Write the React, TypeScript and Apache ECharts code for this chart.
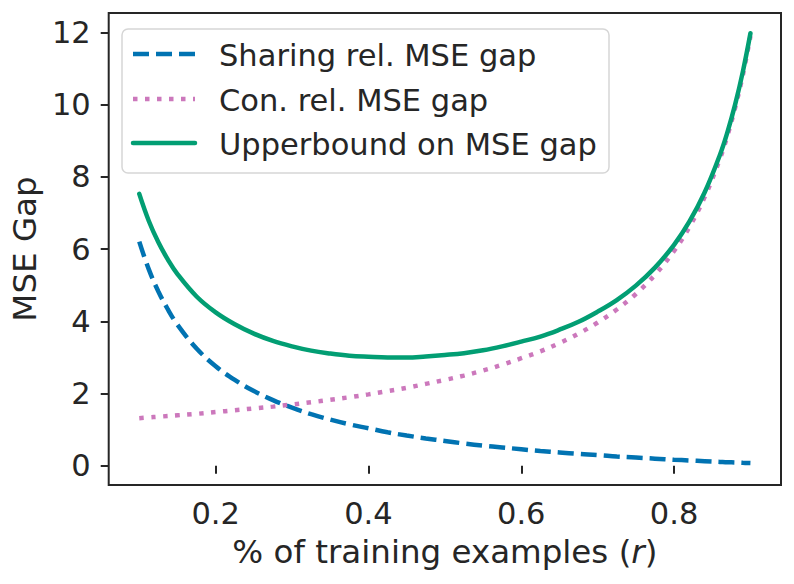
import React, { useEffect, useRef } from "react";
import * as echarts from "echarts";

const rValues = [0.1, 0.1125, 0.125, 0.1375, 0.15, 0.175, 0.2, 0.225, 0.25, 0.275, 0.3, 0.325, 0.35, 0.375, 0.4, 0.425, 0.45, 0.475, 0.5, 0.525, 0.55, 0.575, 0.6, 0.625, 0.65, 0.675, 0.7, 0.725, 0.75, 0.775, 0.8, 0.82, 0.84, 0.86, 0.87, 0.88, 0.89, 0.9];
const sharingGap = [6.21, 5.44, 4.83, 4.33, 3.91, 3.25, 2.76, 2.38, 2.07, 1.82, 1.61, 1.43, 1.28, 1.15, 1.04, 0.93, 0.84, 0.76, 0.69, 0.62, 0.56, 0.51, 0.46, 0.41, 0.37, 0.33, 0.3, 0.26, 0.23, 0.2, 0.17, 0.15, 0.13, 0.11, 0.1, 0.094, 0.085, 0.077];
const conGap = [1.32, 1.34, 1.36, 1.38, 1.4, 1.44, 1.49, 1.54, 1.59, 1.64, 1.7, 1.76, 1.83, 1.9, 1.98, 2.07, 2.16, 2.27, 2.38, 2.5, 2.64, 2.8, 2.98, 3.17, 3.4, 3.66, 3.97, 4.33, 4.76, 5.29, 5.95, 6.61, 7.44, 8.5, 9.15, 9.92, 10.82, 11.9];
const upperBound = [7.53, 6.78, 6.19, 5.71, 5.31, 4.69, 4.25, 3.92, 3.66, 3.46, 3.31, 3.19, 3.11, 3.05, 3.02, 3.0, 3.0, 3.03, 3.07, 3.12, 3.2, 3.31, 3.44, 3.58, 3.77, 3.99, 4.27, 4.59, 4.99, 5.49, 6.12, 6.76, 7.57, 8.61, 9.25, 10.01, 10.91, 11.98];
const xTicks = [0.2, 0.4, 0.6, 0.8];
const yTicks = [0, 2, 4, 6, 8, 10, 12];
const seriesNames = ["Sharing rel. MSE gap", "Con. rel. MSE gap", "Upperbound on MSE gap"];

const FONT = "DejaVu Sans";
const INK = "#262626";
const BLUE = "#0173b2";
const PINK = "#cc78bc";
const GREEN = "#029e73";
const LW = 4.5;

export default function App() {
  const ref = useRef<HTMLDivElement>(null);
  useEffect(() => {
    if (!ref.current) return;
    const chart = echarts.init(ref.current, null, { renderer: "svg" });
    const pairs = (vals: number[]) => rValues.map((r, i) => [r, vals[i]]);
    const legendRows = [
      { name: seriesNames[0], color: BLUE, dash: [16, 7], cap: "butt", y: 54 },
      { name: seriesNames[1], color: PINK, dash: [4.5, 7.5], cap: "butt", y: 99 },
      { name: seriesNames[2], color: GREEN, dash: null, cap: "round", y: 143 },
    ];
    const legendChildren: any[] = [
      {
        type: "rect",
        shape: { x: 122, y: 29, width: 487, height: 144, r: 6 },
        style: { fill: "rgba(255,255,255,0.85)", stroke: "#d6d6d6", lineWidth: 1.5 },
      },
    ];
    legendRows.forEach((row) => {
      legendChildren.push({
        type: "line",
        shape: { x1: 133, y1: row.y, x2: 195, y2: row.y },
        style: {
          stroke: row.color,
          lineWidth: LW,
          lineDash: row.dash || undefined,
          lineCap: row.cap,
        },
      });
      legendChildren.push({
        type: "text",
        x: 219,
        y: row.y + 1,
        style: {
          text: row.name,
          fill: INK,
          font: `30.5px '${FONT}'`,
          verticalAlign: "middle",
          align: "left",
        },
      });
    });
    const lineSeries = (name: string, vals: number[], color: string, type: any, cap: string, z: number) => ({
      name,
      type: "line",
      data: pairs(vals),
      showSymbol: false,
      symbol: "none",
      smooth: 0.4,
      lineStyle: { color, width: LW, type, cap },
      z,
    });
    chart.setOption({
      animation: false,
      backgroundColor: "#ffffff",
      grid: {
        left: 107,
        right: 13,
        top: 13,
        bottom: 99,
        show: true,
        borderColor: INK,
        borderWidth: 2,
        backgroundColor: "transparent",
      },
      xAxis: {
        type: "value",
        min: 0.06,
        max: 0.94,
        axisLine: { show: false },
        splitLine: { show: false },
        axisTick: {
          show: true,
          inside: false,
          length: 8,
          lineStyle: { color: INK, width: 2 },
          customValues: xTicks,
        },
        axisLabel: {
          customValues: xTicks,
          formatter: (v: number) => v.toFixed(1),
          fontSize: 30.5,
          fontFamily: FONT,
          color: INK,
          margin: 13,
        },
        name: "% of training examples ({i|r})",
        nameLocation: "middle",
        nameGap: 50,
        nameTextStyle: {
          fontSize: 32.5,
          fontFamily: FONT,
          color: INK,
          rich: { i: { fontSize: 32.5, fontFamily: FONT, color: INK, fontStyle: "italic" } },
        },
      },
      yAxis: {
        type: "value",
        min: -0.53,
        max: 12.54,
        axisLine: { show: false },
        splitLine: { show: false },
        axisTick: {
          show: true,
          inside: false,
          length: 8,
          lineStyle: { color: INK, width: 2 },
          customValues: yTicks,
        },
        axisLabel: {
          customValues: yTicks,
          fontSize: 30.5,
          fontFamily: FONT,
          color: INK,
          margin: 18,
        },
        name: "MSE Gap",
        nameLocation: "middle",
        nameGap: 67,
        nameTextStyle: { fontSize: 32.5, fontFamily: FONT, color: INK },
      },
      series: [
        lineSeries(seriesNames[0], sharingGap, BLUE, [16, 7], "butt", 2),
        lineSeries(seriesNames[1], conGap, PINK, [4.5, 7.5], "butt", 3),
        lineSeries(seriesNames[2], upperBound, GREEN, "solid", "round", 4),
      ],
      graphic: [{ type: "group", z: 100, children: legendChildren }],
    });
    return () => chart.dispose();
  }, []);
  return (
    <div
      ref={ref}
      style={{ position: "fixed", left: 0, top: 0, width: 794, height: 584, background: "#fff" }}
    />
  );
}
